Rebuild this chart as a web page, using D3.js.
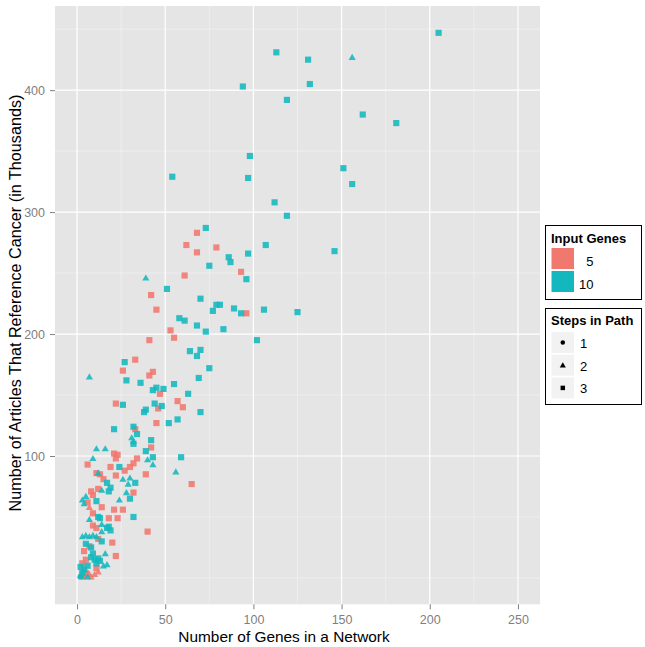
<!DOCTYPE html>
<html>
<head>
<meta charset="utf-8">
<script src="https://cdn.jsdelivr.net/npm/d3@7"></script>
<style>
  html, body { margin: 0; padding: 0; background: #ffffff; }
  svg { display: block; font-family: "Liberation Sans", Arial, sans-serif; }
</style>
</head>
<body>
<svg id="chart" width="645" height="647"></svg>
<script>
// ---- data: [number of genes, articles (thousands)] ----
const genes5_step1 = [[4, 1]];
const genes5_step2 = [[7, 58], [7, 3], [10, 3], [5, 6], [8, 1], [12, 5]];
const genes5_step3 = [
  [68, 283], [62, 273], [79, 271], [68, 267], [93, 251], [61, 248], [42, 232], [45, 220],
  [96, 217], [53, 203], [55, 197], [41, 195], [33, 179], [26, 170], [43, 169], [41, 166],
  [47, 151], [57, 145], [60, 140], [22, 143], [46, 139], [45, 127], [33, 122], [42, 107],
  [65, 77], [39, 85], [21, 102], [22, 98], [23, 101], [19, 91], [27, 88], [30, 91],
  [32, 94], [34, 98], [22, 84], [32, 70], [6, 93], [11, 86], [13, 85], [15, 81],
  [12, 73], [8, 71], [9, 68], [6, 62], [14, 58], [9, 53], [18, 49], [21, 56],
  [26, 56], [23, 49], [9, 43], [11, 41], [40, 38], [20, 29], [22, 18], [11, 8],
  [12, 32], [7, 26], [4, 22], [5, 15], [3, 12], [5, 4], [3, 2]
];
const genes10_step1 = [[2, 1]];
const genes10_step2 = [
  [156, 427], [39, 246], [7, 165], [31, 115], [32, 112], [40, 97], [43, 93], [56, 87],
  [11, 106], [16, 106], [9, 98], [26, 81], [30, 82], [29, 77], [28, 70], [24, 64],
  [12, 86], [14, 72], [5, 67], [3, 64], [4, 61], [7, 48], [14, 44], [16, 20],
  [15, 10], [17, 11], [3, 34], [5, 35], [7, 34], [9, 35], [11, 34], [14, 38], [6, 1], [2, 2]
];
const genes10_step3 = [
  [205, 447], [113, 431], [131, 425], [94, 403], [132, 405], [119, 392], [162, 380], [181, 373],
  [98, 346], [151, 336], [54, 329], [97, 328], [156, 323], [112, 308], [119, 297], [73, 287],
  [107, 273], [146, 268], [97, 266], [86, 263], [87, 259], [75, 256], [96, 245], [51, 237],
  [70, 229], [77, 219], [79, 224], [81, 224], [89, 221], [93, 217], [106, 220], [125, 218],
  [58, 213], [61, 211], [68, 207], [73, 202], [83, 204], [102, 195], [64, 186], [70, 187],
  [68, 182], [75, 172], [69, 164], [27, 177], [28, 162], [36, 160], [45, 156], [43, 154],
  [49, 155], [55, 159], [63, 151], [70, 136], [26, 142], [44, 143], [48, 141], [39, 138],
  [38, 136], [52, 127], [57, 130], [21, 122], [32, 124], [34, 118], [32, 110], [42, 113],
  [39, 104], [43, 99], [59, 99], [24, 91], [33, 78], [30, 65], [17, 78], [19, 74],
  [18, 71], [11, 63], [12, 50], [13, 49], [32, 50], [18, 42], [17, 41], [19, 39],
  [8, 25], [8, 17], [10, 15], [12, 16], [11, 12], [3, 4], [2, 9], [4, 7],
  [6, 10], [9, 20], [14, 30], [5, 28], [13, 14]
];

const xTicks = [0, 50, 100, 150, 200, 250];
const xMinor = [25, 75, 125, 175, 225];
const yTicks = [100, 200, 300, 400];
const yMinor = [0, 50, 150, 250, 350, 450];

const inputLabels = ["5", "10"];
const stepLabels = ["1", "2", "3"];
const colors = ["#F0786E", "#12B8BE"];

// ---- layout ----
const svg = d3.select("#chart");
const P = { left: 55, right: 540, top: 6, bottom: 604.3 };

const x = d3.scaleLinear().domain([-12.5, 262.5]).range([P.left, P.right]);
const y = d3.scaleLinear().domain([-21.6, 469]).range([P.bottom, P.top]);

// panel
svg.append("rect").attr("x", P.left).attr("y", P.top)
  .attr("width", P.right - P.left).attr("height", P.bottom - P.top).attr("fill", "#E5E5E5");

const grid = svg.append("g");
grid.selectAll("line.ymin").data(yMinor).join("line")
  .attr("x1", P.left).attr("x2", P.right).attr("y1", d => y(d)).attr("y2", d => y(d))
  .attr("stroke", "#F2F2F2").attr("stroke-width", 0.7);
grid.selectAll("line.xmin").data(xMinor).join("line")
  .attr("y1", P.top).attr("y2", P.bottom).attr("x1", d => x(d)).attr("x2", d => x(d))
  .attr("stroke", "#F2F2F2").attr("stroke-width", 0.7);
grid.selectAll("line.ymaj").data(yTicks).join("line")
  .attr("x1", P.left).attr("x2", P.right).attr("y1", d => y(d)).attr("y2", d => y(d))
  .attr("stroke", "#FFFFFF").attr("stroke-width", 1.2);
grid.selectAll("line.xmaj").data(xTicks).join("line")
  .attr("y1", P.top).attr("y2", P.bottom).attr("x1", d => x(d)).attr("x2", d => x(d))
  .attr("stroke", "#FFFFFF").attr("stroke-width", 1.2);

// axes
const xAxis = svg.append("g").attr("transform", `translate(0,${P.bottom})`)
  .call(d3.axisBottom(x).tickValues(xTicks).tickSize(5).tickPadding(6));
const yAxis = svg.append("g").attr("transform", `translate(${P.left},0)`)
  .call(d3.axisLeft(y).tickValues(yTicks).tickSize(5).tickPadding(5));
[xAxis, yAxis].forEach(a => {
  a.select(".domain").remove();
  a.selectAll(".tick line").attr("stroke", "#7F7F7F");
  a.selectAll(".tick text").attr("fill", "#7F7F7F")
    .style("font-size", "12.5px").style("font-family", "'Liberation Sans', Arial, sans-serif");
});

// axis titles
svg.append("text").attr("x", 284).attr("y", 642).attr("text-anchor", "middle")
  .style("font-size", "15.4px").attr("fill", "#000")
  .text("Number of Genes in a Network");
svg.append("text").attr("transform", `translate(21,303) rotate(-90)`).attr("text-anchor", "middle")
  .style("font-size", "16.2px").attr("fill", "#000")
  .text("Number of Articles That Reference Cancer (in Thousands)");

// points
const symTypes = [d3.symbolCircle, d3.symbolTriangle, d3.symbolSquare];
const symSizes = [30, 22, 38];
const groups = [
  { data: genes5_step1, c: 0, s: 0 }, { data: genes5_step2, c: 0, s: 1 }, { data: genes5_step3, c: 0, s: 2 },
  { data: genes10_step1, c: 1, s: 0 }, { data: genes10_step2, c: 1, s: 1 }, { data: genes10_step3, c: 1, s: 2 }
];
const pts = svg.append("g");
groups.forEach(g => {
  const sym = d3.symbol().type(symTypes[g.s]).size(symSizes[g.s]);
  pts.append("g").selectAll("path").data(g.data).join("path")
    .attr("d", sym)
    .attr("transform", d => `translate(${x(d[0])},${y(d[1]) + (g.s === 1 ? 0.6 : 0)})`)
    .attr("fill", colors[g.c]).attr("fill-opacity", 0.88);
});

// legends
const L = svg.append("g");
// Input Genes
L.append("rect").attr("x", 545.5).attr("y", 225.5).attr("width", 96).attr("height", 74)
  .attr("fill", "#fff").attr("stroke", "#000").attr("stroke-width", 1);
L.append("text").attr("x", 551).attr("y", 243).style("font-size", "13px").style("font-weight", "bold")
  .text("Input Genes");
inputLabels.forEach((lab, i) => {
  L.append("rect").attr("x", 551.5).attr("y", 248 + i * 23).attr("width", 22.5).attr("height", 21)
    .attr("fill", colors[i]);
  L.append("text").attr("x", 593.5).attr("y", 266 + i * 22.5).attr("text-anchor", "end")
    .style("font-size", "13px").text(lab);
});
// Steps in Path
L.append("rect").attr("x", 545.5).attr("y", 308.5).attr("width", 96).attr("height", 96)
  .attr("fill", "#fff").attr("stroke", "#000").attr("stroke-width", 1);
L.append("text").attr("x", 551).attr("y", 325).style("font-size", "13px").style("font-weight", "bold")
  .text("Steps in Path");
const legSizes = [16, 16, 20];
stepLabels.forEach((lab, i) => {
  const ky = 332 + i * 22.7;
  L.append("rect").attr("x", 551.5).attr("y", ky).attr("width", 22.5).attr("height", 21)
    .attr("fill", "#F2F2F2");
  L.append("path").attr("d", d3.symbol().type(symTypes[i]).size(legSizes[i])())
    .attr("transform", `translate(562.8,${ky + 10.5 + (i === 1 ? 0.5 : 0)})`).attr("fill", "#000");
  L.append("text").attr("x", 580).attr("y", ky + 16).style("font-size", "13px").text(lab);
});
</script>
</body>
</html>
